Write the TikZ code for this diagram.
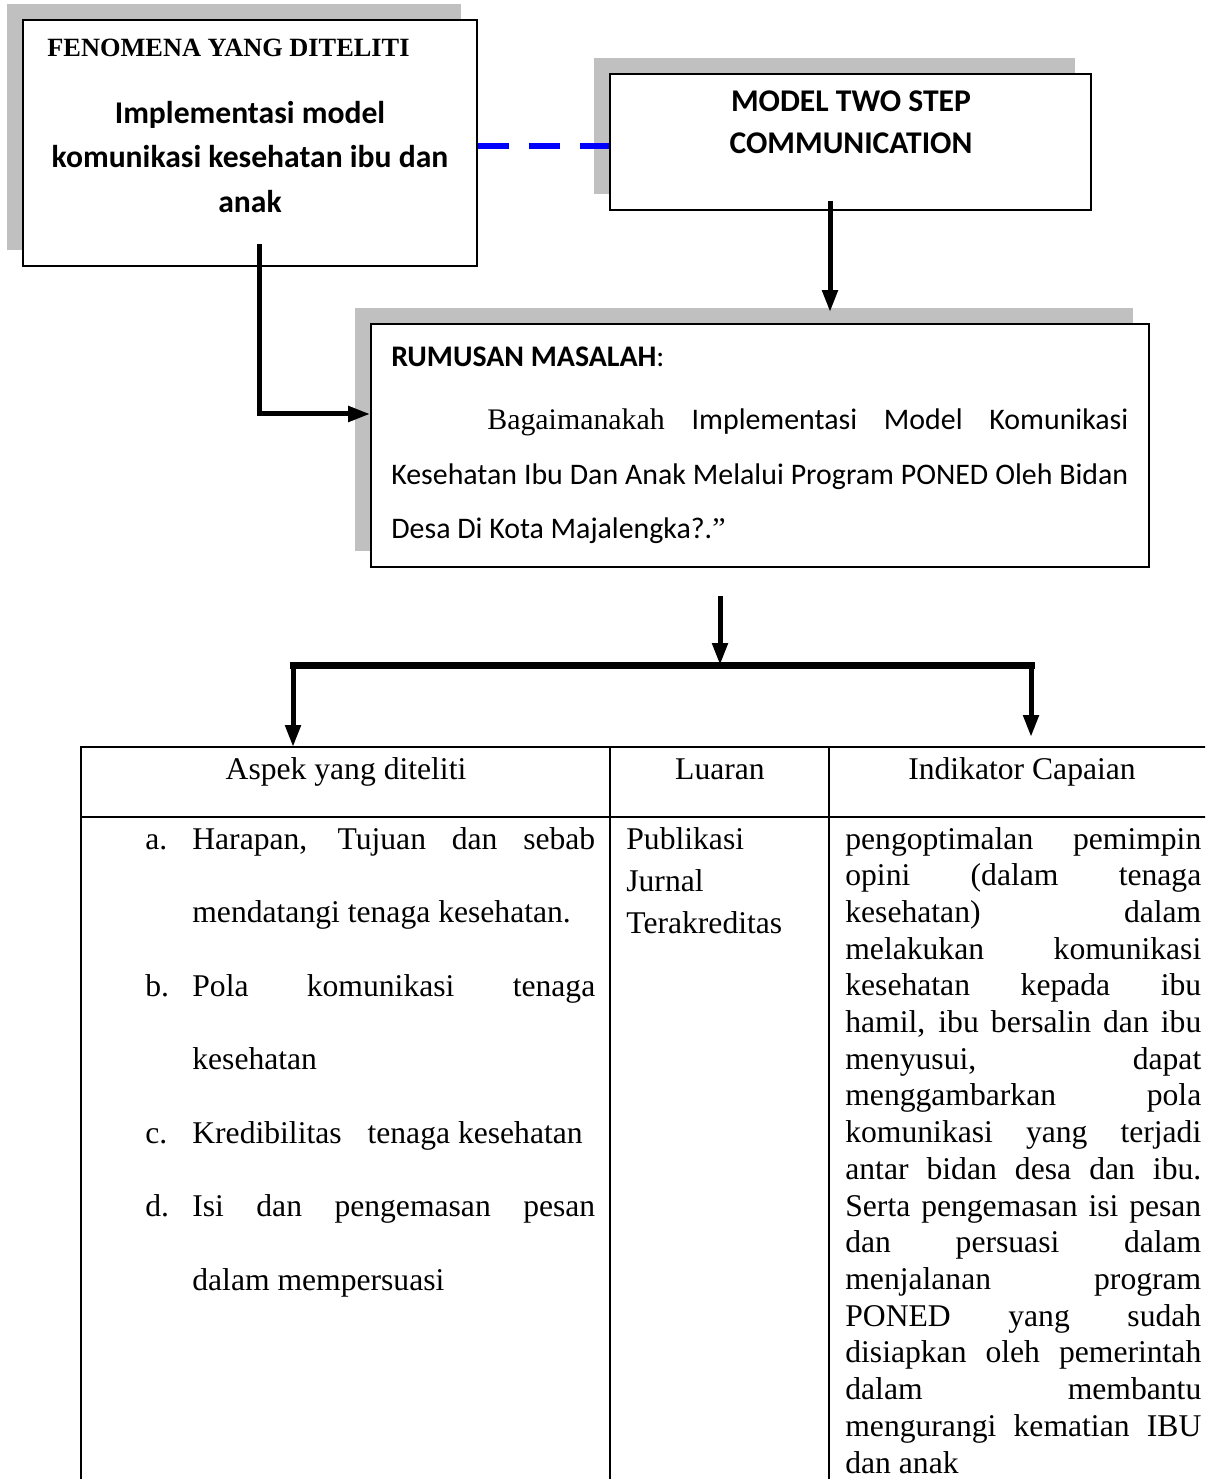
\documentclass[tikz,border=0pt]{standalone}
\usepackage{fontspec}
\setmainfont{Liberation Serif}
\newfontfamily\calibri{Carlito}
\usetikzlibrary{arrows.meta,calc,shadows}
\definecolor{cshadow}{HTML}{C0C0C0}
\definecolor{clink}{HTML}{0000FF}
% one justified line of a given width
\newcommand{\jline}[2]{\makebox[#1][s]{#2}}

\begin{document}
\begin{tikzpicture}[x=0.02cm,y=-0.02cm,
  >={Triangle[length=0.44cm,width=0.3cm]},
  box/.style={draw,line width=1.1pt,fill=white,inner sep=0pt,
    drop shadow={fill=cshadow,opacity=1,shadow xshift=-0.32cm,shadow yshift=0.32cm}},
  txt/.style={inner sep=0pt,anchor=base west},
  ctxt/.style={inner sep=0pt,anchor=base},
  sans/.style={font=\calibri\fontsize{17}{20}\selectfont},
  sansb/.style={font=\calibri\bfseries\fontsize{18}{22}\selectfont},
  serif/.style={font=\fontsize{18}{21}\selectfont},
  flow/.style={->,line width=0.1cm},
  link/.style={clink,line width=0.12cm,dash pattern=on 0.62cm off 0.4cm},
  grid/.style={line width=0.8pt}]
  \useasboundingbox (0,0) rectangle (1205,1479);
  \clip (0,0) rectangle (1205,1479);

  % boxes
  \node[box,minimum width=9.08cm,minimum height=4.92cm] (fenomena) at (250,143) {};
  \node[box,minimum width=9.62cm,minimum height=2.72cm] (model) at (850.5,142) {};
  \node[box,minimum width=15.56cm,minimum height=4.86cm] (rumusan) at (760,445.5) {};

  \node[txt,font=\bfseries\fontsize{15}{18}\selectfont] (fenTitle) at (47,57) {FENOMENA YANG DITELITI};
  \node[ctxt,sansb] (fenA) at (250,124) {Implementasi model};
  \node[ctxt,sansb] (fenB) at (250,168) {komunikasi kesehatan ibu dan};
  \node[ctxt,sansb] (fenC) at (250,213) {anak};

  \node[ctxt,sansb] (modA) at (851,112) {MODEL TWO STEP};
  \node[ctxt,sansb] (modB) at (851,154) {COMMUNICATION};

  \node[txt,sans] (rumTitle) at (391,367) {{\bfseries RUMUSAN MASALAH}:};
  \node[txt,sans] (rumA) at (487,430) {\jline{12.82cm}{{\rmfamily Bagaimanakah} Implementasi Model Komunikasi}};
  \node[txt,sans] (rumB) at (391,484) {\jline{14.74cm}{Kesehatan Ibu Dan Anak Melalui Program PONED Oleh Bidan}};
  \node[txt,sans] (rumC) at (391,538) {Desa Di Kota Majalengka?.{\rmfamily ”}};

  % connectors
  \coordinate (linkA) at ($(fenomena.east)+(0,3)$);
  \draw[link] (linkA) -- (linkA -| model.west);
  \draw[flow] ($(model.south)+(-20.5,-10)$) -- ($(rumusan.north)+(70,-11)$);
  \draw[flow] ($(fenomena.south)+(9,-23)$) |- ($(rumusan.west)+(0,-31.5)$);

  \coordinate (split) at (720,665);
  \coordinate (tblA) at (293,747);
  \coordinate (tblC) at (1031,737);
  \draw[flow] ($(rumusan.south)+(-40,28)$) -- (split);
  \draw[line width=0.14cm,line cap=rect] (split -| tblA) -- (split -| tblC);
  \draw[flow] (split -| tblA) -- (tblA);
  \draw[flow] (split -| tblC) -- (tblC);

  % table
  \draw[grid] (81,1490) -- (81,747) -- (1215,747);
  \draw[grid] (81,817) -- (1215,817);
  \draw[grid] (610,747) -- (610,1490);
  \draw[grid] (829,747) -- (829,1490);

  \node[ctxt,serif] (hAspek) at (346,779) {Aspek yang diteliti};
  \node[ctxt,serif] (hLuaran) at (720,779) {Luaran};
  \node[ctxt,serif] (hIndikator) at (1022,779) {Indikator Capaian};

  \node[txt,serif] (itemA) at (145,849) {a.};
  \node[txt,serif] (itemB) at (145,996) {b.};
  \node[txt,serif] (itemC) at (145,1143) {c.};
  \node[txt,serif] (itemD) at (145,1216) {d.};
  \node[txt,serif] (aspA1) at (192,849) {\jline{8.06cm}{Harapan, Tujuan dan sebab}};
  \node[txt,serif] (aspA2) at (192,922) {mendatangi tenaga kesehatan.};
  \node[txt,serif] (aspB1) at (192,996) {\jline{8.06cm}{Pola komunikasi tenaga}};
  \node[txt,serif] (aspB2) at (192,1069) {kesehatan};
  \node[txt,serif] (aspC1) at (192,1143) {Kredibilitas\hspace*{0.36cm} tenaga kesehatan};
  \node[txt,serif] (aspD1) at (192,1216) {\jline{8.06cm}{Isi dan pengemasan pesan}};
  \node[txt,serif] (aspD2) at (192,1290) {dalam mempersuasi};

  \node[txt,serif] (luaA) at (626,849) {Publikasi};
  \node[txt,serif] (luaB) at (626,891) {Jurnal};
  \node[txt,serif] (luaC) at (626,933) {Terakreditas};

  \foreach \row [count=\i from 0] in {{pengoptimalan pemimpin},{opini (dalam tenaga},
      {kesehatan) dalam},{melakukan komunikasi},{kesehatan kepada ibu},
      {hamil, ibu bersalin dan ibu},{menyusui, dapat},{menggambarkan pola},
      {komunikasi yang terjadi},{antar bidan desa dan ibu.},{Serta pengemasan isi pesan},
      {dan persuasi dalam},{menjalanan program},{PONED yang sudah},
      {disiapkan oleh pemerintah},{dalam membantu},{mengurangi kematian IBU}}
    \node[txt,serif] (ind\i) at (845,{849+36.7*\i}) {\jline{7.12cm}{\row}};
  \node[txt,serif] (ind17) at (845,1473) {dan anak};
\end{tikzpicture}
\end{document}
